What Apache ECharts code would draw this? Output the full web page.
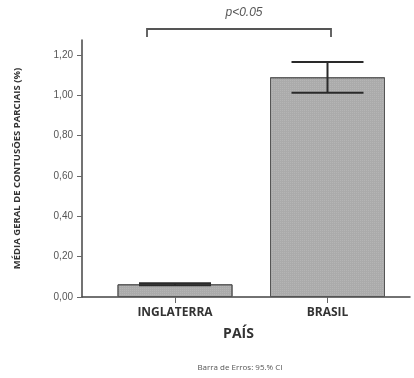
<!DOCTYPE html>
<html>
<head>
<meta charset="utf-8">
<script src="https://cdn.jsdelivr.net/npm/echarts@6/dist/echarts.min.js"></script>
<style>
  html, body { margin: 0; padding: 0; background: #fff; }
  #chart { width: 414px; height: 378px; }
</style>
</head>
<body>
<div id="chart"></div>
<script>
// Countries and mean partial contusions (%), with 95% confidence intervals
const categories = ['INGLATERRA', 'BRASIL'];
const means = [0.063, 1.09];
const ciLow = [0.058, 1.013];
const ciHigh = [0.068, 1.166];
const yTicks = [0, 0.2, 0.4, 0.6, 0.8, 1.0, 1.2];

const barData = categories.map((c, i) => [i, means[i]]);
const errData = categories.map((c, i) => [i, ciLow[i], ciHigh[i]]);

const chart = echarts.init(document.getElementById('chart'), null, { renderer: 'canvas' });

const axisColor = '#444';
const labelFont = 'Liberation Sans, Arial, sans-serif';
const boldFont = 'Open Sans, sans-serif';

chart.setOption({
  animation: false,
  backgroundColor: '#fff',
  grid: { left: 82, right: 4, top: 40, bottom: 81, containLabel: false },
  xAxis: {
    type: 'value',
    min: -0.61,
    max: 1.541,
    splitLine: { show: false },
    axisLine: { show: true, onZero: false, lineStyle: { color: axisColor, width: 1.5 } },
    axisTick: { show: true, customValues: [0, 1], length: 6, lineStyle: { color: '#666' } },
    axisLabel: {
      customValues: [0, 1],
      formatter: v => categories[Math.round(v)],
      margin: 10,
      fontFamily: boldFont,
      fontWeight: 'bold',
      fontSize: 12,
      color: '#333'
    },
    name: 'PAÍS',
    nameLocation: 'middle',
    nameGap: 30,
    nameTextStyle: {
      fontFamily: boldFont, fontWeight: 'bold', fontSize: 14, color: '#333',
      padding: [0, 15, 0, 0]
    }
  },
  yAxis: {
    type: 'value',
    min: 0,
    max: 1.275,
    splitLine: { show: false },
    axisLine: { show: true, onZero: false, lineStyle: { color: axisColor, width: 1.5 } },
    axisTick: { show: true, customValues: yTicks, length: 5, lineStyle: { color: '#666' } },
    axisLabel: {
      customValues: yTicks,
      formatter: v => v.toFixed(2).replace('.', ','),
      margin: 9,
      fontFamily: labelFont,
      fontSize: 10,
      color: '#555'
    },
    name: 'MÉDIA GERAL DE CONTUSÕES PARCIAIS (%)',
    nameLocation: 'middle',
    nameGap: 60,
    nameTextStyle: { fontFamily: boldFont, fontWeight: 'bold', fontSize: 9.5, color: '#333' }
  },
  series: [
    {
      type: 'bar',
      data: barData,
      barWidth: 115,
      itemStyle: {
        color: '#ababab',
        borderColor: '#555',
        borderWidth: 1,
        decal: {
          symbol: 'rect',
          symbolSize: 1,
          dashArrayX: [1, 1],
          dashArrayY: [1, 1],
          color: 'rgba(255,255,255,0.12)'
        }
      }
    },
    {
      type: 'custom',
      data: errData,
      encode: { x: 0, y: [1, 2] },
      z: 5,
      renderItem: (params, api) => {
        const x = api.value(0);
        const lo = api.coord([x, api.value(1)]);
        const hi = api.coord([x, api.value(2)]);
        const hw = 36;
        const style = { stroke: '#2a2a2a', lineWidth: 2 };
        return {
          type: 'group',
          children: [
            { type: 'line', shape: { x1: hi[0], y1: hi[1], x2: lo[0], y2: lo[1] }, style },
            { type: 'line', shape: { x1: hi[0] - hw, y1: hi[1], x2: hi[0] + hw, y2: hi[1] }, style },
            { type: 'line', shape: { x1: lo[0] - hw, y1: lo[1], x2: lo[0] + hw, y2: lo[1] }, style }
          ]
        };
      }
    }
  ],
  graphic: [
    {
      type: 'polyline',
      shape: { points: [[147, 37], [147, 29], [331, 29], [331, 37]] },
      style: { stroke: '#555', lineWidth: 1.8, fill: null }
    },
    {
      type: 'text',
      x: 244, y: 13,
      style: {
        text: 'p<0.05', fontFamily: labelFont, fontStyle: 'italic', fontSize: 12,
        fill: '#555', align: 'center', verticalAlign: 'middle'
      }
    },
    {
      type: 'text',
      x: 240, y: 368,
      style: {
        text: 'Barra de Erros: 95.% CI', fontFamily: boldFont, fontSize: 8,
        fill: '#555', align: 'center', verticalAlign: 'middle'
      }
    }
  ]
});
</script>
</body>
</html>
